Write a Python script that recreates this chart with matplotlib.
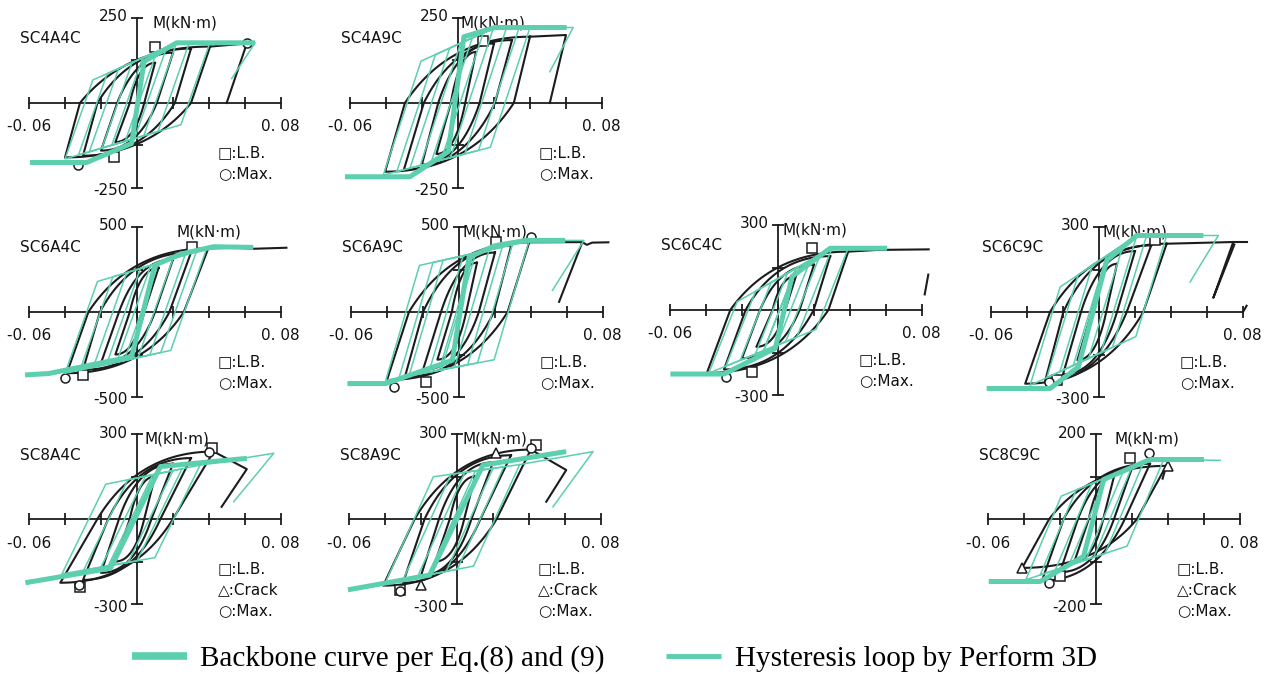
import numpy as np
import matplotlib
matplotlib.use("Agg")
import matplotlib.pyplot as plt
from matplotlib.lines import Line2D

GREEN = "#5ccfae"
BLACK = "#1c1c1c"
W, H = 1269, 674

names = ["SC4A4C", "SC4A9C", "SC6A4C", "SC6A9C", "SC6C4C", "SC6C9C", "SC8A4C", "SC8A9C", "SC8C9C"]
m_max = [250, 250, 500, 500, 300, 300, 300, 300, 200]
has_crack = [False, False, False, False, False, False, True, True, True]

# backbone curve per Eq.(8),(9): drift / moment
backbone_x = [
    [-0.0594, -0.028, -0.003, 0.0039, 0.022, 0.0656],
    [-0.0628, -0.0267, -0.0054, 0.0033, 0.0206, 0.0604],
    [-0.0622, -0.049, -0.003, 0.010, 0.024, 0.0424, 0.0646],
    [-0.062, -0.0407, -0.0037, 0.0056, 0.020, 0.037, 0.059],
    [-0.0598, -0.030, -0.0015, 0.0078, 0.029, 0.0606],
    [-0.0624, -0.0272, -0.0115, 0.0043, 0.021, 0.058],
    [-0.062, -0.0148, 0.013, 0.061],
    [-0.0606, -0.0152, 0.0144, 0.0607],
    [-0.0596, -0.031, -0.0069, 0.0043, 0.030, 0.060],
]
backbone_m = [
    [-175, -175, -119, 122, 177, 177],
    [-217, -217, -143, 195, 222, 222],
    [-370, -362, -263, 276, 340, 384, 380],
    [-421, -421, -284, 323, 390, 421, 421],
    [-226, -226, -135, 118, 218, 218],
    [-270, -270, -194, 182, 270, 270],
    [-225, -174, 185, 214],
    [-250, -198, 190, 238],
    [-147, -147, -88, 93, 140, 140],
]

# Perform 3D loops: upper / lower branch lines, unloading stiffness, peak drifts
loop_upper = [
    [(-0.0206, 77), (0.022, 177)],
    [(-0.021, 122), (0.0206, 222)],
    [(-0.0224, 178), (0.0387, 374)],
    [(-0.022, 274), (0.037, 412)],
    [(-0.0228, 29), (0.028, 212)],
    [(-0.0217, 88), (0.021, 270)],
    [(-0.0148, 126), (0.035, 190)],
    [(-0.0133, 149), (0.0348, 192)],
    [(-0.0198, 53), (0.030, 140)],
]
loop_lower = [
    [(-0.039, -163), (0.002, -99)],
    [(-0.0415, -212), (0.0196, -128)],
    [(-0.040, -361), (0.020, -223)],
    [(-0.0407, -402), (0.013, -294)],
    [(-0.0385, -223), (0.027, -53)],
    [(-0.0383, -259), (0.020, -88)],
    [(-0.0417, -194), (0.013, -133)],
    [(-0.040, -227), (0.0126, -162)],
    [(-0.039, -143), (0.020, -60)],
]
loop_ku = [15000, 16000, 30000, 36000, 16000, 20800, 13000, 14000, 10000]
loop_pos = [
    [0.011, 0.0165, 0.022, 0.029, 0.0405],
    [0.014, 0.0196, 0.027, 0.034, 0.040],
    [0.012, 0.020, 0.0267, 0.033, 0.0387],
    [0.0093, 0.0167, 0.024, 0.0296, 0.0389],
    [0.010, 0.018, 0.0235, 0.030, 0.039],
    [0.0135, 0.021, 0.0265, 0.0376],
    [0.012, 0.020, 0.025, 0.035],
    [0.012, 0.020, 0.026, 0.0348],
    [0.0154, 0.020, 0.0265, 0.0376],
]
loop_neg = [
    [-0.014, -0.0195, -0.0265, -0.0325, -0.040],
    [-0.015, -0.021, -0.0267, -0.034, -0.0415],
    [-0.0113, -0.0169, -0.0243, -0.0317, -0.040],
    [-0.011, -0.0167, -0.0278, -0.0333, -0.0407],
    [-0.008, -0.0126, -0.021, -0.029, -0.0385],
    [-0.0143, -0.0217, -0.029, -0.0383],
    [-0.016, -0.020, -0.0296, -0.0417],
    [-0.016, -0.022, -0.030, -0.040],
    [-0.0152, -0.0226, -0.031, -0.039],
]
loop_tail = [
    [(0.0405, 177), (0.0656, 177), (0.0526, 72)],
    [(0.040, 222), (0.064, 222), (0.051, 92)],
    [],
    [(0.0389, 421), (0.0694, 421), (0.0519, 127)],
    [],
    [(0.0376, 270), (0.0663, 270), (0.0506, 106)],
    [(0.035, 190), (0.076, 232), (0.0537, 61)],
    [(0.0348, 192), (0.0756, 238), (0.0533, 43)],
    [(0.0376, 140), (0.069, 138)],
]

# test loops: (neg drift, neg M, pos drift, pos M, zero after neg, zero after pos)
test_loops = [
    [(-0.012, -115, 0.010, 118, -0.004, 0.004), (-0.020, -140, 0.020, 148, -0.011, 0.011),
     (-0.030, -155, 0.030, 160, -0.022, 0.021), (-0.040, -160, 0.0406, 166, -0.0317, 0.030)],
    [(-0.012, -150, 0.010, 150, -0.004, 0.004), (-0.020, -180, 0.020, 175, -0.011, 0.012),
     (-0.030, -195, 0.030, 185, -0.019, 0.0205), (-0.0405, -202, 0.040, 195, -0.0295, 0.031)],
    [(-0.012, -250, 0.012, 260, -0.004, 0.004), (-0.020, -300, 0.020, 310, -0.010, 0.010),
     (-0.030, -340, 0.030, 350, -0.0206, 0.018), (-0.039, -360, 0.0396, 374, -0.027, 0.026)],
    [(-0.012, -280, 0.010, 290, -0.004, 0.004), (-0.020, -340, 0.020, 350, -0.010, 0.011),
     (-0.030, -380, 0.029, 390, -0.020, 0.0194), (-0.040, -400, 0.039, 410, -0.0278, 0.027)],
    [(-0.012, -130, 0.010, 120, -0.003, 0.004), (-0.020, -170, 0.020, 160, -0.010, 0.012),
     (-0.030, -210, 0.029, 190, -0.018, 0.0198), (-0.0395, -222, 0.039, 206, -0.0265, 0.028)],
    [(-0.012, -170, 0.010, 170, -0.004, 0.004), (-0.020, -220, 0.020, 215, -0.010, 0.010),
     (-0.030, -245, 0.029, 235, -0.0198, 0.0154), (-0.041, -253, 0.0376, 241, -0.0272, 0.0246)],
    [(-0.012, -150, 0.010, 150, -0.004, 0.004), (-0.020, -190, 0.020, 195, -0.010, 0.008),
     (-0.030, -215, 0.030, 215, -0.016, 0.013), (-0.0426, -225, 0.0426, 238, -0.022, 0.020)],
    [(-0.012, -150, 0.010, 150, -0.004, 0.004), (-0.020, -200, 0.020, 200, -0.010, 0.008),
     (-0.030, -225, 0.030, 225, -0.018, 0.013), (-0.041, -235, 0.041, 245, -0.0235, 0.022)],
    [(-0.012, -100, 0.010, 100, -0.004, 0.004), (-0.020, -125, 0.020, 120, -0.010, 0.010),
     (-0.030, -145, 0.030, 130, -0.018, 0.016), (-0.041, -115, 0.039, 125, -0.026, 0.0228)],
]
test_tail = [
    [[(0.0406, 166), (0.061, 175), (0.0498, 0)]],
    [[(0.040, 195), (0.060, 200), (0.051, 0)]],
    [[(0.0396, 374), (0.055, 378), (0.065, 372), (0.083, 378)]],
    [[(0.039, 410), (0.0685, 411), (0.0556, 60)], [(0.0685, 411), (0.071, 395), (0.074, 408), (0.083, 410)]],
    [[(0.039, 206), (0.055, 212), (0.0837, 214)], [(0.0815, 55), (0.0835, 125)]],
    [[(0.0376, 241), (0.0746, 247), (0.0635, 50), (0.0752, 238)], [(0.0746, 247), (0.082, 247)],
     [(0.080, 0), (0.082, 22)]],
    [[(0.0426, 238), (0.061, 176), (0.047, 43)]],
    [[(0.041, 245), (0.0607, 173), (0.0496, 61)]],
    [[(0.039, 125), (0.037, 95)]],
]

lb_pts = [[(0.010, 166), (-0.013, -158)], [(0.014, 182)], [(0.0304, 384), (-0.030, -370)],
          [(0.0204, 412), (-0.0185, -412)], [(0.019, 218), (-0.0144, -218)],
          [(0.031, 253), (-0.0235, -241)], [(0.0417, 249), (-0.0315, -239)],
          [(0.044, 261), (-0.0319, -250)], [(0.019, 143), (-0.0198, -135)]]
max_pts = [[(0.061, 175), (-0.0326, -182)], [], [(-0.040, -390)], [(0.0398, 441), (-0.036, -441)],
           [(-0.029, -235)], [(-0.028, -247)], [(0.040, 238), (-0.032, -232)],
           [(0.0413, 249), (-0.0319, -255)], [(0.0293, 155), (-0.026, -150)]]
crack_pts = [[], [], [], [], [], [], [], [(0.0219, 232), (-0.0198, -233)], [(0.040, 124), (-0.041, -115)]]

# layout: pixel position of the axes cross of each panel, offset of the M label
origin_px = [(137, 103), (458, 103), (137, 312), (459, 312), (778, 310), (1099, 312),
             (137, 519), (457, 519), (1096, 519)]
m_label_dx = [16, 3, 40, 3, 5, 3, 8, 5, 19]
PX_X = 1800.0
PX_Y = 85.0


def line_fn(p, q, cap_lo, cap_hi):
    s = (q[1] - p[1]) / (q[0] - p[0])
    return lambda x: np.clip(p[1] + s * (np.asarray(x, dtype=float) - p[0]), cap_lo, cap_hi)


def green_loop(up, lo, ku, dp, dn):
    mp = float(up(dp))
    mn = float(lo(dn))
    xs = np.linspace(dn, dp, 600)
    xa = xs[np.argmin(np.abs(mp - ku * (dp - xs) - lo(xs)))]
    xb = xs[np.argmin(np.abs(mn + ku * (xs - dn) - up(xs)))]
    lx = np.linspace(xa, dn, 60)
    ux = np.linspace(xb, dp, 60)
    X = np.concatenate([[dp], lx, ux, [dp]])
    Y = np.concatenate([[mp], lo(lx), up(ux), [mp]])
    return X, Y


def bez(p0, c, p1, n=40):
    t = np.linspace(0, 1, n)
    x = (1 - t) ** 2 * p0[0] + 2 * (1 - t) * t * c[0] + t ** 2 * p1[0]
    y = (1 - t) ** 2 * p0[1] + 2 * (1 - t) * t * c[1] + t ** 2 * p1[1]
    return x, y


def test_loop(dn, mn, dp, mp, zn, zp):
    x1, y1 = bez((zp, 0), (zp - 0.35 * (zp - dn), mn), (dn, mn))
    x2, y2 = bez((zn, 0), (zn + 0.35 * (dp - zn), mp), (dp, mp))
    return np.concatenate([[dp], x1, x2]), np.concatenate([[mp], y1, y2])


fig = plt.figure(figsize=(W / 100, H / 100), dpi=100)
txt = dict(fontsize=11, family=["DejaVu Sans"], color="#111111")

for i in range(len(names)):
    x0, y0 = origin_px[i]
    Ym = m_max[i]
    ax = fig.add_axes([(x0 - 126) / W, 1 - (y0 + 1.3 * PX_Y) / H, 288 / W, 2.6 * PX_Y / H])
    ax.set_xlim(-0.07, 0.09)
    ax.set_ylim(-1.3 * Ym, 1.3 * Ym)
    ax.patch.set_visible(False)
    ax.spines["top"].set_visible(False)
    ax.spines["right"].set_visible(False)
    ax.spines["left"].set_position(("data", 0))
    ax.spines["bottom"].set_position(("data", 0))
    ax.spines["bottom"].set_bounds(-0.06, 0.08)
    ax.spines["left"].set_bounds(-Ym, Ym)
    for s in ["left", "bottom"]:
        ax.spines[s].set_linewidth(1.3)
        ax.spines[s].set_color(BLACK)
    ax.set_xticks(np.arange(-0.06, 0.0801, 0.02))
    ax.set_yticks([-Ym, -Ym / 2, Ym / 2, Ym])
    ax.tick_params(direction="inout", length=8, width=1.3, color=BLACK,
                   labelbottom=False, labelleft=False)

    mtop = max(backbone_m[i])
    mbot = min(backbone_m[i])

    # test results
    for lp in test_loops[i]:
        X, Y = test_loop(*lp)
        ax.plot(X, Y, color=BLACK, lw=1.5, zorder=2, clip_on=False)
    for seg in test_tail[i]:
        ax.plot([p[0] for p in seg], [p[1] for p in seg], color=BLACK, lw=1.5, zorder=2, clip_on=False)

    ms = dict(ls="none", mfc="white", mec=BLACK, mew=1.1, ms=6.5, zorder=3, clip_on=False)
    if lb_pts[i]:
        ax.plot([p[0] for p in lb_pts[i]], [p[1] for p in lb_pts[i]], marker="s", **ms)
    if max_pts[i]:
        ax.plot([p[0] for p in max_pts[i]], [p[1] for p in max_pts[i]], marker="o", **ms)
    if crack_pts[i]:
        ax.plot([p[0] for p in crack_pts[i]], [p[1] for p in crack_pts[i]], marker="^", **ms)

    # Perform 3D loops
    up = line_fn(loop_upper[i][0], loop_upper[i][1], -1e9, mtop)
    lo = line_fn(loop_lower[i][0], loop_lower[i][1], mbot, 1e9)
    for dp, dn in zip(loop_pos[i], loop_neg[i]):
        X, Y = green_loop(up, lo, loop_ku[i], dp, dn)
        ax.plot(X, Y, color=GREEN, lw=1.1, zorder=4, clip_on=False)
    if loop_tail[i]:
        ax.plot([p[0] for p in loop_tail[i]], [p[1] for p in loop_tail[i]],
                color=GREEN, lw=1.1, zorder=4, clip_on=False)

    ax.plot(backbone_x[i], backbone_m[i], color=GREEN, lw=3.6, zorder=5,
            solid_capstyle="butt", clip_on=False)

    # labels
    ky = Ym / PX_Y
    ax.text(-117 / PX_X, 64 * ky, names[i], ha="left", va="center", **txt)
    ax.text(-0.06, -24 * ky, "-0. 06", ha="center", va="center", **txt)
    ax.text(0.0795, -24 * ky, "0. 08", ha="center", va="center", **txt)
    ax.text(-9 / PX_X, Ym + 1 * ky, str(Ym), ha="right", va="center", **txt)
    ax.text(-9 / PX_X, -Ym - 3 * ky, "-" + str(Ym), ha="right", va="center", **txt)
    ax.text(m_label_dx[i] / PX_X, Ym - 5 * ky, "M(kN\u00b7m)", ha="left", va="center", **txt)
    keys = ["\u25a1:L.B."] + (["\u25b3:Crack"] if has_crack[i] else []) + ["\u25cb:Max."]
    for k, s in enumerate(keys):
        ax.text(81 / PX_X, -(50 + 21 * k) * ky, s, ha="left", va="center", **txt)

handles = [Line2D([], [], color=GREEN, lw=5.5, solid_capstyle="butt"),
           Line2D([], [], color=GREEN, lw=3.5, solid_capstyle="butt")]
labels = ["Backbone curve per Eq.(8) and (9)", "Hysteresis loop by Perform 3D"]
fig.legend(handles, labels, loc="center", bbox_to_anchor=(0.484, 0.023), ncol=2, frameon=False,
           prop={"family": "Liberation Serif", "size": 21}, handlelength=1.9, handletextpad=0.45,
           columnspacing=2.1, borderpad=0, borderaxespad=0)

fig.savefig("out.png", dpi=100)
